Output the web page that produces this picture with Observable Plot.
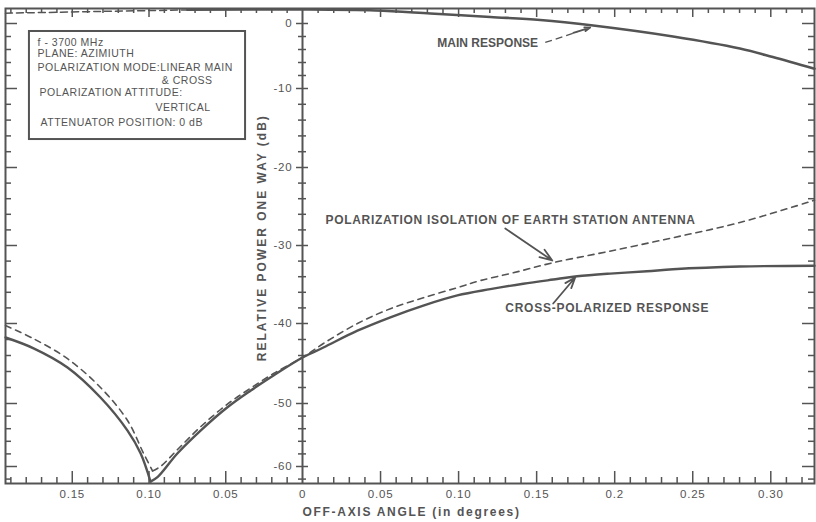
<!DOCTYPE html>
<html>
<head>
<meta charset="utf-8">
<script src="https://cdn.jsdelivr.net/npm/d3@7"></script>
<script src="https://cdn.jsdelivr.net/npm/@observablehq/plot@0.6"></script>
<style>
  html, body { margin: 0; padding: 0; background: #fff; }
  #chart svg { display: block; }
</style>
</head>
<body>
<div id="chart"></div>
<script>
// ---------- data (off-axis angle in degrees, relative power in dB) ----------
// Main response (solid) along the top
const mainAngle = [-0.075, 0, 0.0467, 0.0819, 0.1203, 0.1523, 0.1862, 0.2374, 0.2802, 0.3013, 0.328];
const mainDb    = [2.1, 2.15, 2.0, 1.54, 1.0, 0.54, -0.31, -2.0, -3.85, -5.15, -6.95];
// Main response, dashed part on the far left
const mainDashAngle = [-0.1935, -0.1316, -0.075];
const mainDashDb    = [1.58, 1.85, 2.08];

// Cross-polarized response (solid), left branch down to the null, then rising branch
const crossLeftAngle  = [-0.1935, -0.1752, -0.1531, -0.1316, -0.114, -0.1055, -0.099];
const crossLeftDb     = [-41.75, -43.1, -45.5, -49.25, -54.3, -57.9, -62.4];
const crossRightAngle = [-0.099, -0.0945, -0.0814, -0.0664, -0.0489, -0.0339, -0.0189, 0, 0.0134, 0.0352, 0.0563, 0.0774, 0.0992, 0.1203, 0.1414, 0.1631, 0.1759, 0.1971, 0.2207, 0.2374, 0.2802, 0.328];
const crossRightDb    = [-62.4, -61.7, -57.9, -54.3, -50.6, -48.4, -46.5, -44.25, -43.0, -40.9, -39.2, -37.7, -36.4, -35.6, -34.9, -34.3, -33.95, -33.6, -33.3, -33.05, -32.7, -32.6];

// Polarization isolation of earth station antenna (dashed)
const isoLeftAngle  = [-0.1935, -0.1752, -0.1531, -0.1316, -0.114, -0.1036, -0.0977];
const isoLeftDb     = [-40.25, -41.9, -44.4, -48.0, -52.7, -57.9, -60.7];
const isoRightAngle = [-0.0977, -0.0925, -0.0814, -0.0664, -0.0489, -0.0339, -0.0189, 0, 0.0134, 0.0352, 0.0563, 0.0774, 0.0992, 0.1139, 0.135, 0.1606, 0.1951, 0.2374, 0.2802, 0.328];
const isoRightDb    = [-60.7, -60.0, -57.3, -53.7, -50.1, -48.1, -46.25, -44.25, -42.5, -40.0, -38.1, -36.7, -35.4, -34.5, -33.5, -32.2, -30.8, -29.0, -27.05, -24.2];

// Tick labels
const yTickValues = [0, -10, -20, -30, -40, -50, -60];
const xLabelValues = [-0.15, -0.10, -0.05, 0, 0.05, 0.10, 0.15, 0.20, 0.25, 0.30];
const xLabelTexts  = ["0.15", "0.10", "0.05", "0", "0.05", "0.10", "0.15", "0.2", "0.25", "0.30"];

// Texts
const yTitle = "RELATIVE POWER ONE WAY (dB)";
const xTitle = "OFF-AXIS ANGLE (in degrees)";
const annotationTexts = ["MAIN RESPONSE", "POLARIZATION ISOLATION OF EARTH STATION ANTENNA", "CROSS-POLARIZED RESPONSE"];
const annotationAngle = [0.0864, 0.0147, 0.1299];
const annotationDb    = [-3.08, -26.8, -38.08];

const legendTexts  = ["f - 3700 MHz", "PLANE: AZIMIUTH", "POLARIZATION MODE:LINEAR MAIN", "& CROSS", "POLARIZATION ATTITUDE:", "VERTICAL", "ATTENUATOR POSITION: 0 dB"];
const legendAngle  = [-0.1726, -0.1726, -0.1726, -0.0586, -0.1713, -0.0599, -0.1707];
const legendDb     = [-2.92, -4.62, -6.77, -8.77, -10.5, -12.4, -14.3];
const legendAnchor = ["start", "start", "start", "end", "start", "end", "start"];
const legendBox = {a1: -0.1779, a2: -0.0371, d1: -1.23, d2: -16.46};

// Leader arrows: [fromAngle, fromDb, toAngle, toDb]
const leaderDashed = [{a1: 0.1555, d1: -2.92, a2: 0.1760, d2: -1.30}];
const leaderArrows = [
  {a1: 0.1735, d1: -1.45, a2: 0.1843, d2: -0.62},
  {a1: 0.1299, d1: -27.82, a2: 0.1600, d2: -31.92},
  {a1: 0.1606, d1: -37.44, a2: 0.1747, d2: -34.1}
];

// ---------- build rows ----------
const rows = (seg, xs, ys) => xs.map((x, i) => ({seg, x, y: ys[i]}));
const mainRows = rows("main", mainAngle, mainDb);
const mainDashRows = rows("mainDash", mainDashAngle, mainDashDb);
const crossRows = [...rows("L", crossLeftAngle, crossLeftDb), ...rows("R", crossRightAngle, crossRightDb)];
const isoRows = [...rows("L", isoLeftAngle, isoLeftDb), ...rows("R", isoRightAngle, isoRightDb)];
const annotations = annotationTexts.map((t, i) => ({t, x: annotationAngle[i], y: annotationDb[i]}));
const legendRows = legendTexts.map((t, i) => ({t, x: legendAngle[i], y: legendDb[i], anchor: legendAnchor[i]}));

// tick positions
const xMinor = d3.range(-19, 33).filter(i => i % 5 !== 0).map(i => i / 100);
const xMajor = d3.range(-15, 33, 5).filter(i => i !== 0).map(i => i / 100);
const yMinor = d3.range(0, -63, -2).filter(v => v % 10 !== 0);
const yMajor = yTickValues;

const ink = "#545454";

// scales (the original's grid is slightly uneven, so the scales are piecewise)
const xScaleOpts = {type: "linear", domain: [-0.1935, 0, 0.328], range: [5, 302, 814]};
const yScaleOpts = {type: "linear", domain: [2.3, 0, -10, -20, -30, -40, -50, -60, -62.7], range: [8, 23, 88, 167, 245, 323, 403, 466, 483]};
const yS = Plot.scale({y: yScaleOpts});
const yBottom = yScaleOpts.domain[yScaleOpts.domain.length - 1];
const yTop = yScaleOpts.domain[0];
const yBottomPx = yS.apply(yBottom), yTopPx = yS.apply(yTop);

// plot-area geometry (from the margins below)
const W = 816 - 5 - 2, zeroFromLeft = 302 - 5;
const tickStyle = {stroke: ink, strokeWidth: 1.5};
const bottomTicks = (v, len) => Plot.ruleX(v, {x: d => d, y1: () => yBottom, y2: () => yS.invert(yBottomPx - len), ...tickStyle});
const topTicks = (v, len) => Plot.ruleX(v, {x: d => d, y1: () => yTop, y2: () => yS.invert(yTopPx + len), ...tickStyle});
const leftTicks = (v, len) => Plot.tickY(v, {y: d => d, insetRight: W - len, ...tickStyle});
const rightTicks = (v, len) => Plot.tickY(v, {y: d => d, insetLeft: W - len, ...tickStyle});
const centerTicks = (v, len) => Plot.tickY(v, {y: d => d, insetLeft: zeroFromLeft - len / 2, insetRight: W - zeroFromLeft - len / 2, ...tickStyle});

const plot = Plot.plot({
  width: 816,
  height: 522,
  marginTop: 8,
  marginBottom: 39,
  marginLeft: 5,
  marginRight: 2,
  x: {...xScaleOpts, axis: null},
  y: {...yScaleOpts, axis: null},
  style: {fontFamily: "'Liberation Sans', Arial, sans-serif", color: ink, background: "#fff"},
  marks: [
    // legend box
    Plot.rect([legendBox], {x1: "a1", x2: "a2", y1: "d1", y2: "d2", fill: "#fff", stroke: ink, strokeWidth: 2}),
    Plot.text(legendRows.filter(d => d.anchor === "start"), {x: "x", y: "y", text: "t", textAnchor: "start", fontSize: 10.5, fill: ink}),
    Plot.text(legendRows.filter(d => d.anchor === "end"), {x: "x", y: "y", text: "t", textAnchor: "end", fontSize: 10.5, fill: ink}),

    // edge ticks
    bottomTicks(xMinor, 6),
    bottomTicks(xMajor, 12),
    topTicks(xMinor, 5),
    topTicks(xMajor, 9),
    leftTicks(yMinor, 6),
    leftTicks(yMajor, 12),
    rightTicks(yMinor, 6),
    rightTicks(yMajor, 12),

    // central y axis at 0 deg
    Plot.ruleX([0], {stroke: ink, strokeWidth: 2}),
    centerTicks(yMinor, 8),
    centerTicks(yMajor, 12),

    // curves
    Plot.line(mainRows, {x: "x", y: "y", curve: "catmull-rom", stroke: ink, strokeWidth: 2.6}),
    Plot.line(mainDashRows, {x: "x", y: "y", curve: "catmull-rom", stroke: ink, strokeWidth: 1.5, strokeDasharray: "7,4"}),
    Plot.line(crossRows, {x: "x", y: "y", z: "seg", curve: "catmull-rom", stroke: ink, strokeWidth: 2.4}),
    Plot.line(isoRows, {x: "x", y: "y", z: "seg", curve: "catmull-rom", stroke: ink, strokeWidth: 1.6, strokeDasharray: "6,5"}),

    // annotations
    Plot.text(annotations, {x: "x", y: "y", text: "t", textAnchor: "start", fontSize: 12, fontWeight: "bold", fill: ink}),
    Plot.link(leaderDashed, {x1: "a1", y1: "d1", x2: "a2", y2: "d2", stroke: ink, strokeWidth: 1.3, strokeDasharray: "7,4"}),
    Plot.arrow(leaderArrows, {x1: "a1", y1: "d1", x2: "a2", y2: "d2", stroke: ink, strokeWidth: 1.8, headLength: 11, headAngle: 40}),

    // tick labels
    Plot.text(yTickValues, {x: () => 0, y: d => d, text: d => String(d), dx: -10, textAnchor: "end", fontSize: 11.5, fill: ink}),
    Plot.text(xLabelValues, {x: d => d, text: (d, i) => xLabelTexts[i], frameAnchor: "bottom", dy: 11, lineAnchor: "middle", fontSize: 11.5, fill: ink}),

    // axis titles
    Plot.text([xTitle], {x: () => 0, text: d => d, frameAnchor: "bottom", dy: 29, textAnchor: "start", lineAnchor: "middle", fontSize: 12, fontWeight: "bold", fill: ink}),
    Plot.text([yTitle], {x: () => 0, y: () => -29, text: d => d, dx: -40, rotate: -90, textAnchor: "middle", lineAnchor: "middle", fontSize: 12, fontWeight: "bold", fill: ink}),

    Plot.frame({stroke: ink, strokeWidth: 2})
  ]
});

// letter spacing of the hand-lettered texts
const spacing = new Map([
  [xTitle, "1.7px"], [yTitle, "2px"],
  [annotationTexts[1], "0.7px"], [annotationTexts[2], "0.75px"],
  ...legendTexts.map(t => [t, "0.5px"]),
  ...xLabelTexts.map(t => [t, "0.8px"]),
  ...yTickValues.map(v => [String(v), "0.8px"])
]);
d3.select(plot).selectAll("text").each(function () {
  const s = spacing.get(this.textContent);
  if (s) this.style.letterSpacing = s;
});

document.getElementById("chart").appendChild(plot);
</script>
</body>
</html>
